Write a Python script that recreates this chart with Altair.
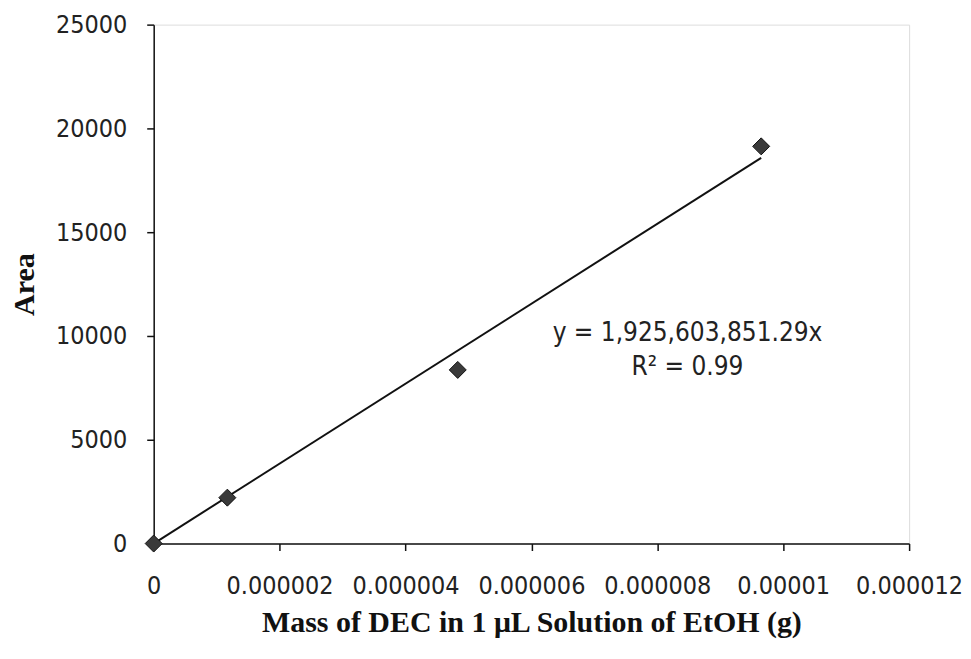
import altair as alt
import pandas as pd

mass = [0.0, 0.00000117, 0.00000483, 0.00000965]
area = [0, 2210, 8365, 19135]

slope = 1925603851.29
trend_x = [0.0, 0.00000965]
trend_y = [slope * v for v in trend_x]

ann_text = ["y = 1,925,603,851.29x", "R\u00b2 = 0.99"]
ann_x = [0.00000848, 0.00000848]
ann_y = [10150, 8500]

pts = pd.DataFrame({"mass": mass, "area": area})
trend = pd.DataFrame({"mass": trend_x, "area": trend_y})
ann = pd.DataFrame({"t": ann_text, "mass": ann_x, "area": ann_y})

tick_font = "DejaVu Sans Condensed"

xenc = alt.X("mass:Q", scale=alt.Scale(domain=[0, 0.000012], nice=False),
             axis=alt.Axis(values=[0, 0.000002, 0.000004, 0.000006, 0.000008, 0.00001, 0.000012],
                           format=".6~f", title="Mass of DEC in 1 \u03bcL Solution of EtOH (g)",
                           labelFont=tick_font, labelFontSize=25, labelColor="#222",
                           labelPadding=23, tickSize=7, tickColor="#111", domainColor="#111",
                           domainWidth=1.5, tickWidth=1.5, grid=False, labelFlush=False,
                           titleFont="Liberation Serif", titleFontSize=30, titleFontWeight="bold",
                           titleColor="#111", titlePadding=9))
yenc = alt.Y("area:Q", scale=alt.Scale(domain=[0, 25000], nice=False),
             axis=alt.Axis(values=[0, 5000, 10000, 15000, 20000, 25000], format="d",
                           title="Area", labelFont=tick_font, labelFontSize=25, labelColor="#222",
                           labelPadding=20, tickSize=7, tickColor="#111", domainColor="#111",
                           domainWidth=1.5, tickWidth=1.5, grid=False, labelFlush=False,
                           titleFont="Liberation Serif", titleFontSize=30, titleFontWeight="bold",
                           titleColor="#111", titlePadding=16))

line = alt.Chart(trend).mark_line(color="#111", strokeWidth=2).encode(x=xenc, y=yenc)
points = alt.Chart(pts).mark_point(shape="diamond", filled=True, size=290, color="#3a3a3a",
                                   stroke="#111", strokeWidth=1, opacity=1).encode(x="mass:Q", y="area:Q")
text = alt.Chart(ann).mark_text(font=tick_font, fontSize=26, color="#222", align="center",
                                baseline="middle").encode(x="mass:Q", y="area:Q", text="t:N")

chart = alt.layer(line, points, text).properties(
    width=757, height=520, padding={"left": 1, "top": 4, "right": 0, "bottom": 2}
).configure_view(stroke="#111", strokeWidth=1.5).configure(background="white")

chart.save("out.html", embed_options={"renderer": "svg", "actions": False})
